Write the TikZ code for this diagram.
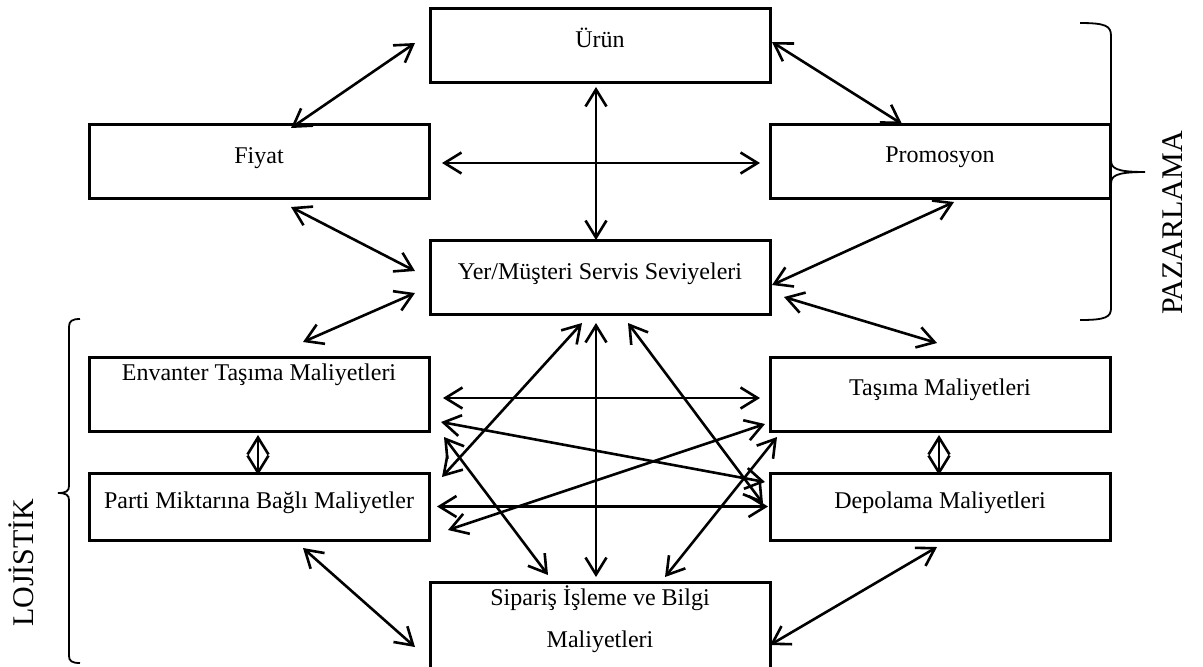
\documentclass[tikz,border=0pt]{standalone}
\usepackage{fontspec}
\setmainfont{Liberation Serif}
\usetikzlibrary{arrows.meta,calc}
\tikzset{
  lmbox/.style={draw=black, line width=1.5pt, minimum width=170pt, minimum height=37pt,
                inner sep=0pt, outer sep=0pt},
  lmlow/.style={lmbox, minimum height=33.5pt},
  lmtext/.style={font=\fontsize{12}{21}\selectfont, anchor=base, inner sep=0pt, align=center},
  lmrel/.style={line width=1.3pt,
                {Straight Barb[length=8.5pt,width=10.5pt]}-{Straight Barb[length=8.5pt,width=10.5pt]}},
  lmbrace/.style={line width=0.9pt},
  lmside/.style={font=\fontsize{15}{18}\selectfont, rotate=90, anchor=base, inner sep=0pt},
}

\begin{document}
\begin{tikzpicture}[x=0.5pt, y=-0.5pt]
  \useasboundingbox (0,0) rectangle (1203,666);
  % pazarlama kutulari
  \node[lmbox] (u) at (600,45) {};
  \node[lmbox] (fi) at (259,161) {};
  \node[lmbox] (pr) at (940,161) {};
  \node[lmbox] (ye) at (600,277) {};
  % lojistik kutulari
  \node[lmbox] (en) at (259,394) {};
  \node[lmbox] (ta) at (940,394) {};
  \node[lmlow] (pa) at (259,506.5) {};
  \node[lmlow] (de) at (940,506.5) {};
  \node[lmbox, minimum height=50pt] (si) at (600,632) {};

  \node[lmtext] (u-t) at ($(u.north)+(0,39)$) {Ürün};
  \node[lmtext] (fi-t) at ($(fi.north)+(0,39)$) {Fiyat};
  \node[lmtext] (pr-t) at ($(pr.north)+(0,38)$) {Promosyon};
  \node[lmtext] (ye-t) at ($(ye.north)+(0,39)$) {Yer/Müşteri Servis Seviyeleri};
  \node[lmtext] (en-t) at ($(en.north)+(0,23)$) {Envanter Taşıma Maliyetleri};
  \node[lmtext] (ta-t) at ($(ta.north)+(0,38)$) {Taşıma Maliyetleri};
  \node[lmtext] (pa-t) at ($(pa.north)+(0,35)$) {Parti Miktarına Bağlı Maliyetler};
  \node[lmtext] (de-t) at ($(de.north)+(0,35)$) {Depolama Maliyetleri};
  \node[lmtext] (si-t) at ($(si.north)+(0,65)$) {Sipariş İşleme ve Bilgi\\Maliyetleri};

  % oklar
  \draw[lmrel] ($(fi.north)+(32,4)$) -- ($(u.west)+(-15,-2)$);
  \draw[lmrel] ($(u.east)+(2,-3)$) -- ($(pr.north)+(-38,0)$);
  \draw[lmrel] ($(u.south)+(-4,5)$) -- ($(ye.north)+(-4,0)$);
  \draw[lmrel] ($(fi.east)+(13,2)$) -- ($(pr.west)+(-10,2)$);
  \draw[lmrel] ($(fi.south)+(32,9)$) -- ($(ye.west)+(-15,-6)$);
  \draw[lmrel] ($(pr.south)+(14,4)$) -- ($(ye.east)+(2,8)$);
  \draw[lmrel] ($(ye.west)+(-15,16)$) -- ($(en.north)+(44,-15)$);
  \draw[lmrel] ($(ye.east)+(14,20)$) -- ($(ta.north)+(-3,-14)$);
  \draw[lmrel] ($(en.south)+(-1,4)$) -- ($(pa.north)+(-1,2)$);
  \draw[lmrel] ($(ta.south)+(-1,4)$) -- ($(de.north)+(-1,2)$);
  \draw[lmrel] ($(pa.south)+(44,8)$) -- ($(si.north west)+(-15,65)$);
  \draw[lmrel] ($(de.south)+(-3,7)$) -- ($(si.north east)+(0,63)$);
  \draw[lmrel] ($(en.east)+(14,4)$) -- ($(ta.west)+(-10,4)$);
  \draw[lmrel] ($(pa.east)+(8,0)$) -- ($(de.west)+(-2,0)$);
  \draw[lmrel] ($(en.south east)+(12,-9)$) -- ($(de.north west)+(-5,9)$);
  \draw[lmrel] ($(pa.south east)+(19,-10)$) -- ($(ta.south west)+(-5,-7)$);
  \draw[lmrel] ($(ye.south)+(-18,9)$) -- ($(pa.north east)+(13,4)$);
  \draw[lmrel] ($(ye.south)+(-4,9)$) -- ($(si.north)+(-4,-5)$);
  \draw[lmrel] ($(ye.south)+(28,9)$) -- ($(de.west)+(-7,-3)$);
  \draw[lmrel] ($(en.south east)+(15,6)$) -- ($(si.north)+(-52,-7)$);
  \draw[lmrel] ($(ta.south west)+(7,6)$) -- ($(si.north)+(65,-5)$);

  % parantezler
  \draw[lmbrace] (1080,23) .. controls (1106,23) and (1111,26) .. (1111,36) -- (1111,160)
    .. controls (1111,168) and (1115,172) .. (1145,172)
    .. controls (1115,172) and (1111,176) .. (1111,184) -- (1111,308)
    .. controls (1111,317) and (1106,320) .. (1080,320);
  \draw[lmbrace] (80,319) .. controls (72,319) and (69,321) .. (69,327) -- (69,486)
    .. controls (69,491) and (66,493) .. (58,493)
    .. controls (66,493) and (69,495) .. (69,500) -- (69,656)
    .. controls (69,661) and (72,663) .. (80,663);
  \node[lmside] (loj) at (33,562.5) {LOJİSTİK};
  \node[lmside] (paz) at (1182,223) {PAZARLAMA};
\end{tikzpicture}
\end{document}
